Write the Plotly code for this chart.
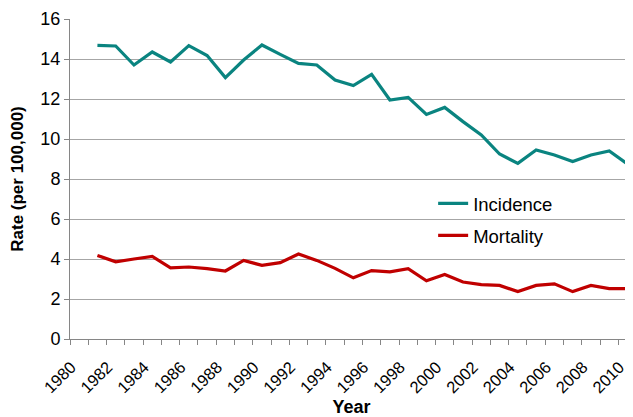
import plotly.graph_objects as go

years = list(range(1981, 2011))
incidence = [14.68, 14.65, 13.70, 14.35, 13.85, 14.67, 14.17, 13.07, 13.95, 14.70,
             14.23, 13.78, 13.70, 12.95, 12.67, 13.23, 11.95, 12.08, 11.23, 11.58,
             10.87, 10.20, 9.25, 8.78, 9.45, 9.20, 8.87, 9.20, 9.40, 8.75]
mortality = [4.18, 3.86, 4.00, 4.13, 3.56, 3.60, 3.52, 3.40, 3.93, 3.68,
             3.82, 4.25, 3.93, 3.53, 3.06, 3.42, 3.36, 3.52, 2.91, 3.23,
             2.85, 2.72, 2.68, 2.37, 2.68, 2.76, 2.37, 2.68, 2.52, 2.52]
tick_years = list(range(1980, 2011, 2))
y_ticks = list(range(0, 17, 2))

FONT = "Liberation Sans, Arial, sans-serif"

fig = go.Figure()
fig.add_trace(go.Scatter(x=years, y=incidence, name="Incidence", mode="lines",
                         line=dict(color="#0A8480", width=3.2), legendgroup="a"))
fig.add_trace(go.Scatter(x=years, y=mortality, name="Mortality", mode="lines",
                         line=dict(color="#C00000", width=3.2), legendgroup="b"))

# the page body has an 8px margin, so the figure is sized to fit the window
fig.update_layout(
    width=625, height=409,
    margin=dict(l=62, r=0, t=11, b=77.5),
    paper_bgcolor="white", plot_bgcolor="white",
    font=dict(family=FONT, size=16, color="black"),
    showlegend=True,
    legend=dict(x=0.645, y=0.482, xanchor="left", yanchor="top",
                font=dict(size=18.5), tracegroupgap=5, bgcolor="rgba(0,0,0,0)"),
    xaxis=dict(
        range=[1979.5, 2010.30], automargin=False,
        tickmode="array", tickvals=tick_years, ticktext=[str(v) for v in tick_years],
        tickangle=-45, ticks="", showgrid=False, ticklabeloverflow="allow",
        ticklabelstandoff=11, ticklabelshift=-8,
        showline=True, linecolor="#868686", linewidth=1,
        minor=dict(ticks="outside", tick0=1979.5, dtick=1, ticklen=5,
                   tickcolor="#868686", showgrid=False),
        tickfont=dict(size=16.5),
        title=dict(text="<b>Year</b>", font=dict(size=18), standoff=5),
        zeroline=False,
    ),
    yaxis=dict(
        range=[0, 16], tickmode="array", tickvals=y_ticks, automargin=False,
        ticks="outside", ticklen=5, tickcolor="#868686",
        showgrid=True, gridcolor="#A6A6A6", gridwidth=1,
        showline=True, linecolor="#868686", linewidth=1,
        tickfont=dict(size=18),
        title=dict(text="<b>Rate (per 100,000)</b>", font=dict(size=17), standoff=12),
        zeroline=False,
    ),
)

fig.write_html("out.html")
